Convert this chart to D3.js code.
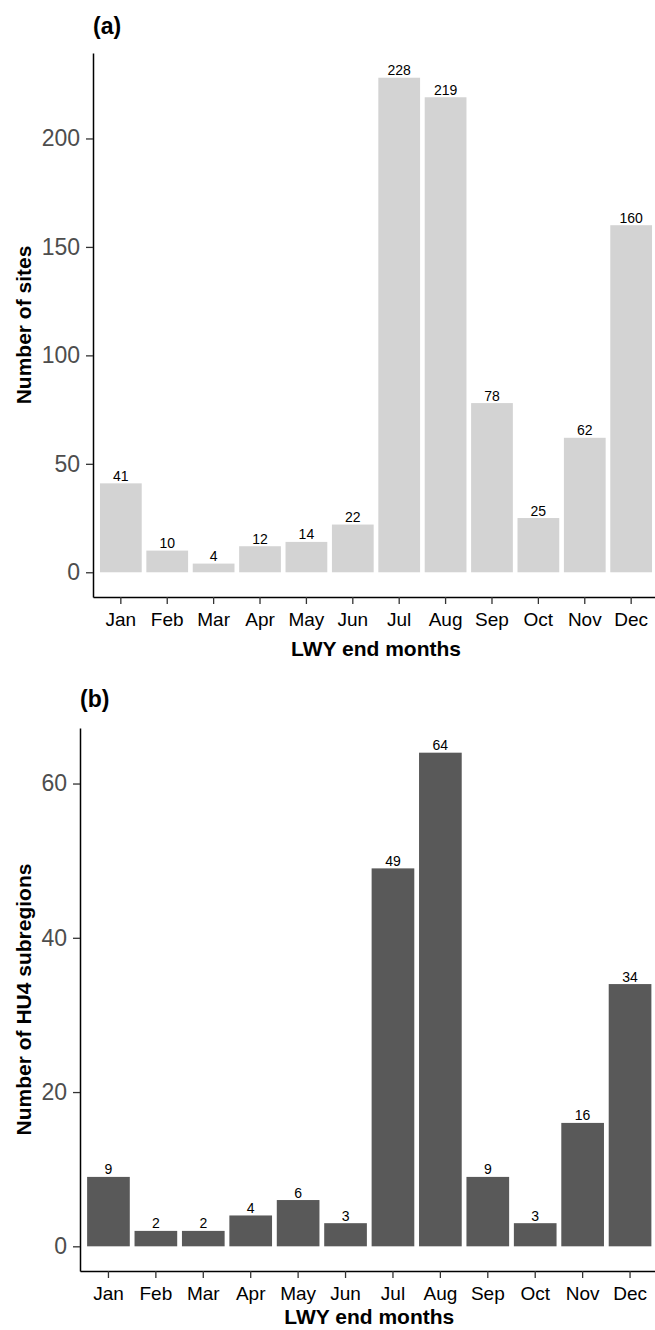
<!DOCTYPE html>
<html>
<head>
<meta charset="utf-8">
<script src="https://cdn.jsdelivr.net/npm/d3@7"></script>
<style>
  html, body { margin: 0; padding: 0; background: #fff; }
  svg { display: block; font-family: "Liberation Sans", Arial, sans-serif; }
</style>
</head>
<body>
<svg id="chart" width="655" height="1330"></svg>
<script>
const months = ["Jan","Feb","Mar","Apr","May","Jun","Jul","Aug","Sep","Oct","Nov","Dec"];
const sitesCounts = [41,10,4,12,14,22,228,219,78,25,62,160];
const hu4Counts = [9,2,2,4,6,3,49,64,9,3,16,34];
const sitesTicks = [0,50,100,150,200];
const hu4Ticks = [0,20,40,60];

const svg = d3.select("#chart");

function panel(cfg) {
  const g = svg.append("g");
  const x = d3.scaleBand().domain(months).range([cfg.left, cfg.right])
    .paddingInner(0.1).paddingOuter(0.15);
  const maxV = d3.max(cfg.values);
  const ex = maxV * 0.05;
  const y = d3.scaleLinear().domain([-ex, maxV + ex]).range([cfg.bottom, cfg.top]);

  // bars
  g.selectAll("rect.bar").data(cfg.values).enter().append("rect")
    .attr("class", "bar")
    .attr("x", (d, i) => x(months[i]))
    .attr("width", x.bandwidth())
    .attr("y", d => y(d))
    .attr("height", d => y(0) - y(d))
    .attr("fill", cfg.fill);

  // value labels
  g.selectAll("text.val").data(cfg.values).enter().append("text")
    .attr("class", "val")
    .attr("x", (d, i) => x(months[i]) + x.bandwidth() / 2)
    .attr("y", d => y(d) - 2.5)
    .attr("text-anchor", "middle")
    .attr("font-size", 14)
    .attr("fill", "#000")
    .text(d => d);

  // y axis
  const ya = g.append("g").attr("transform", `translate(${cfg.left},0)`)
    .call(d3.axisLeft(y).tickValues(cfg.ticks).tickSize(7).tickPadding(6).tickSizeOuter(0));
  ya.select(".domain").attr("stroke", "#000").attr("stroke-width", 1.5);
  ya.selectAll(".tick line").attr("stroke", "#333").attr("stroke-width", 1.3);
  ya.selectAll(".tick text").attr("font-size", 23).attr("fill", "#4d4d4d")
    .attr("font-family", "Liberation Sans, Arial, sans-serif");

  // x axis
  const xa = g.append("g").attr("transform", `translate(0,${cfg.bottom})`)
    .call(d3.axisBottom(x).tickSize(7).tickPadding(9).tickSizeOuter(0));
  xa.select(".domain").attr("stroke", "#000").attr("stroke-width", 1.5);
  xa.selectAll(".tick line").attr("stroke", "#333").attr("stroke-width", 1.3);
  xa.selectAll(".tick text").attr("font-size", 19).attr("fill", "#000")
    .attr("font-family", "Liberation Sans, Arial, sans-serif");

  // x title
  g.append("text")
    .attr("x", (cfg.left + cfg.right) / 2)
    .attr("y", cfg.bottom + cfg.xTitleOff)
    .attr("text-anchor", "middle")
    .attr("font-size", 21).attr("font-weight", "bold")
    .text("LWY end months");

  // y title
  g.append("text")
    .attr("transform", `translate(${cfg.yTitleX},${(cfg.top + cfg.bottom) / 2}) rotate(-90)`)
    .attr("text-anchor", "middle")
    .attr("font-size", 21).attr("font-weight", "bold")
    .text(cfg.yTitle);

  // panel tag
  g.append("text")
    .attr("x", cfg.tagX).attr("y", cfg.tagY)
    .attr("font-size", 23).attr("font-weight", "bold")
    .text(cfg.tag);
}

panel({
  values: sitesCounts, ticks: sitesTicks, fill: "#d3d3d3",
  left: 93, right: 659, top: 53, bottom: 597, xTitleOff: 58.5,
  yTitle: "Number of sites", yTitleX: 31, tag: "(a)", tagX: 93, tagY: 34
});
panel({
  values: hu4Counts, ticks: hu4Ticks, fill: "#595959",
  left: 80, right: 658.5, top: 728, bottom: 1271, xTitleOff: 53,
  yTitle: "Number of HU4 subregions", yTitleX: 31, tag: "(b)", tagX: 80, tagY: 707
});
</script>
</body>
</html>
